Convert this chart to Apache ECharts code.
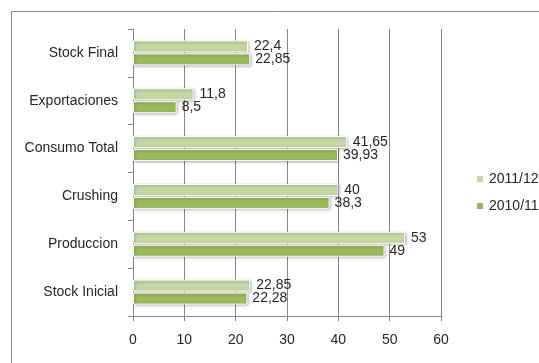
<!DOCTYPE html>
<html><head><meta charset="utf-8">
<script src="https://cdn.jsdelivr.net/npm/echarts@6/dist/echarts.min.js"></script>
<style>html,body{margin:0;padding:0;background:#fff}#c{width:539px;height:363px}</style>
</head><body><div id="c"></div>
<script>
const categories = ['Stock Inicial','Produccion','Crushing','Consumo Total','Exportaciones','Stock Final'];
const s2011 = [22.85, 53, 40, 41.65, 11.8, 22.4];
const s2010 = [22.28, 49, 38.3, 39.93, 8.5, 22.85];
const xTicks = [0, 10, 20, 30, 40, 50, 60];
const FONT = 'Liberation Sans';
const FS = 14;
const TXT = '#262626';
const fmt = p => String(p.value).replace('.', ',');
const chart = echarts.init(document.getElementById('c'));
const barStyle = c => ({color: c, borderColor: '#ffffff', borderWidth: 1, shadowColor: 'rgba(0,0,0,0.35)', shadowBlur: 3, shadowOffsetX: 1, shadowOffsetY: 1});
chart.setOption({
  animation: false,
  textStyle: {fontFamily: FONT},
  graphic: [{type: 'rect', shape: {x: 11.5, y: 11.5, width: 600, height: 400}, style: {fill: 'none', stroke: '#8a8a8a', lineWidth: 1}}],
  grid: {left: 133, right: 98, top: 29, bottom: 47},
  legend: {
    orient: 'vertical', left: 470, top: 167, itemGap: 13, itemWidth: 8, itemHeight: 8, icon: 'rect',
    data: ['2011/12', '2010/11'],
    textStyle: {fontFamily: FONT, fontSize: FS, color: TXT}
  },
  xAxis: {
    type: 'value', min: xTicks[0], max: xTicks[xTicks.length-1], interval: 10,
    axisLine: {show: true, lineStyle: {color: '#868686'}},
    axisTick: {show: true, length: 5, lineStyle: {color: '#868686'}},
    axisLabel: {margin: 17, fontSize: FS, color: TXT, fontFamily: FONT},
    splitLine: {show: true, lineStyle: {color: '#868686'}}
  },
  yAxis: {
    type: 'category', data: categories,
    axisLine: {show: true, lineStyle: {color: '#868686'}},
    axisTick: {show: true, length: 5, lineStyle: {color: '#868686'}},
    axisLabel: {margin: 15, fontSize: FS, color: TXT, fontFamily: FONT}
  },
  series: [
    {name: '2011/12', type: 'bar', data: s2011, barWidth: 12, barGap: '8%', itemStyle: barStyle('#c4d7a4'),
     label: {show: true, position: 'right', distance: 6, formatter: fmt, fontSize: FS, color: TXT, fontFamily: FONT}},
    {name: '2010/11', type: 'bar', data: s2010, barWidth: 12, barGap: '8%', itemStyle: barStyle('#9bbb59'),
     label: {show: true, position: 'right', distance: 5, formatter: fmt, fontSize: FS, color: TXT, fontFamily: FONT}}
  ]
});
</script></body></html>
